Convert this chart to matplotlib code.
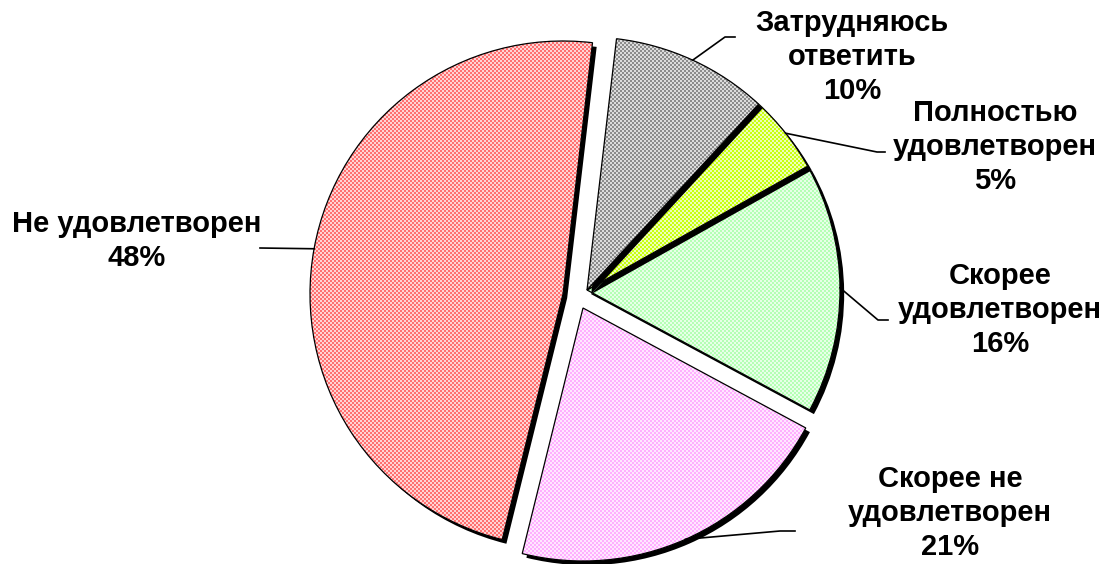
import numpy as np
import matplotlib
matplotlib.use("Agg")
import matplotlib.pyplot as plt
import matplotlib.patheffects as pe
from matplotlib.colors import to_rgb
from matplotlib.patches import Wedge

# data, clockwise from the top
labels = ["Затрудняюсь\nответить", "Полностью\nудовлетворен", "Скорее\nудовлетворен",
          "Скорее не\nудовлетворен", "Не удовлетворен"]
shares = [10, 5, 16, 21, 48]
colors = ["#8c8c8c", "#c8ff10", "#b4ffb4", "#ffb0ff", "#ff7070"]

W, H = 1111, 564
fig = plt.figure(figsize=(W / 100, H / 100), dpi=100)
ax = fig.add_axes([0, 0, 1, 1])

def P(x, y):
    # pixel coords (top-left origin) -> data coords
    return x, H - y

radius = 253
wedges, _ = ax.pie(shares, radius=radius, center=P(587, 290), startangle=83.3,
                   counterclock=False, colors=["white"] * 5,
                   wedgeprops=dict(linewidth=0))

# exploded slices (pixel centers)
centers = {3: P(583, 308), 4: P(563, 294)}
for i, c in centers.items():
    wedges[i].set_center(c)

# draw order: which slice's shadow lies on top of which
zorders = [5, 4, 3, 1, 2]

cell = 2
ny, nx = H // cell, W // cell + 1
jj, ii = np.meshgrid(np.arange(nx), np.arange(ny))
mask = ((ii + jj) % 2 == 0)[..., None]

for w, col, z in zip(wedges, colors, zorders):
    w.set_zorder(z)
    w.set_path_effects([pe.SimplePatchShadow(offset=(3, -3), shadow_rgbFace="black", alpha=1.0),
                        pe.Normal()])
    c = np.array(to_rgb(col))
    light = 0.3 * c + 0.7
    rgb = np.where(mask, c, light)
    img = ax.imshow(rgb, extent=(0, nx * cell, 0, ny * cell), origin="lower",
                    interpolation="nearest", zorder=z + 0.1)
    img.set_clip_path(w)
    edge = Wedge(w.center, w.r, w.theta1, w.theta2, fill=False,
                 edgecolor="black", linewidth=0.9, zorder=z + 0.2)
    ax.add_patch(edge)

# labels: text center, elbow, line end (pixel coords)
label_pos = [(852, 57), (995, 147), (1000, 310), (950, 513), (137, 241)]
elbows = [(725, 37), (877, 152), (878, 320), (780, 531), (260, 248)]
ends = [(735, 37), (885, 152), (888, 320), (795, 531), (260, 248)]

for w, lab, s, tp, el, en in zip(wedges, labels, shares, label_pos, elbows, ends):
    mid = np.deg2rad((w.theta1 + w.theta2) / 2)
    ax_x = w.center[0] + w.r * np.cos(mid)
    ax_y = w.center[1] + w.r * np.sin(mid)
    ex, ey = P(*el)
    nx_, ny_ = P(*en)
    ax.plot([ax_x, ex, nx_], [ax_y, ey, ny_], color="black", lw=1.2, zorder=10)
    ax.text(*P(*tp), f"{lab}\n{s}%", ha="center", va="center", fontsize=21,
            fontweight="bold", family="Liberation Sans", linespacing=1.28, zorder=11)

ax.set_xlim(0, W)
ax.set_ylim(0, H)
ax.set_aspect("auto")
ax.axis("off")
fig.savefig("out.png", dpi=100)
